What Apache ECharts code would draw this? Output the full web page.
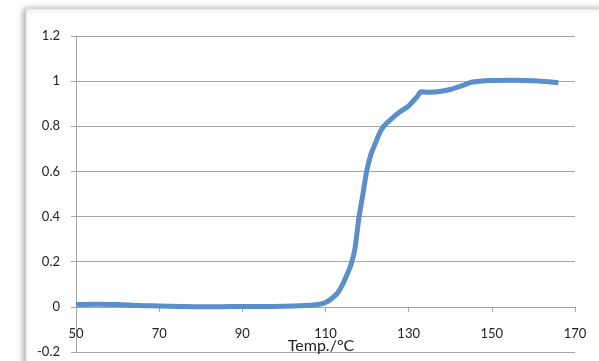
<!DOCTYPE html>
<html>
<head>
<meta charset="utf-8">
<script src="https://cdn.jsdelivr.net/npm/echarts@6/dist/echarts.min.js"></script>
<style>
  html, body { margin: 0; padding: 0; background: #fff; }
  #chart { width: 599px; height: 361px; }
</style>
</head>
<body>
<div id="chart"></div>
<script>
// temperature (°C) and normalised response
const temps = [50, 55, 60, 65, 70, 75, 80, 85, 90, 95, 100, 104, 107, 109, 110, 111, 112, 113, 114, 115,
  116, 117, 118, 119, 120, 121, 122, 123, 124, 126, 128, 130, 131, 132, 133, 135, 137, 140, 142, 144,
  145, 147, 150, 155, 160, 163, 166];
const values = [0.01, 0.012, 0.01, 0.006, 0.004, 0.002, 0.0, 0.001, 0.002, 0.002, 0.003, 0.005, 0.008, 0.013, 0.019, 0.03, 0.045, 0.064, 0.095, 0.136,
  0.18, 0.25, 0.39, 0.5, 0.61, 0.68, 0.725, 0.77, 0.8, 0.835, 0.865, 0.89, 0.91, 0.93, 0.953, 0.951, 0.953, 0.963, 0.975, 0.988,
  0.995, 1.0, 1.003, 1.004, 1.002, 0.998, 0.993];
const xTicks = [50, 70, 90, 110, 130, 150, 170];
const xTitle = 'Temp./°C';

const chart = echarts.init(document.getElementById('chart'));
const labelFont = 'Lato, "Open Sans", sans-serif';
const axisGray = '#a6a6a6';

chart.setOption({
  animation: false,
  graphic: [
    {
      type: 'rect',
      z: -10,
      shape: { x: 26, y: 9, width: 640, height: 400 },
      style: {
        fill: '#fff',
        stroke: '#dedede',
        lineWidth: 1,
        shadowBlur: 6,
        shadowOffsetX: -2,
        shadowColor: 'rgba(0,0,0,0.35)'
      }
    },
    {
      // axis title, Excel puts it just under the tick labels
      type: 'text',
      z: 10,
      x: 321,
      y: 346,
      style: {
        text: xTitle,
        fill: '#222',
        font: '16px ' + labelFont,
        textAlign: 'center',
        textVerticalAlign: 'middle'
      }
    }
  ],
  grid: { left: 76, right: 24, top: 36, bottom: 9, containLabel: false, outerBoundsMode: 'none' },
  xAxis: [
    {
      // line + ticks sitting on y = 0
      type: 'value',
      min: 50,
      max: 170,
      interval: 20,
      axisLine: { onZero: true, onZeroAxisIndex: 0, lineStyle: { color: axisGray, width: 1 } },
      axisTick: { show: true, length: 5, lineStyle: { color: axisGray } },
      axisLabel: { show: false },
      splitLine: { show: false }
    },
    {
      // labels, shifted up next to the zero line
      type: 'value',
      position: 'bottom',
      offset: -44.5,
      min: 50,
      max: 170,
      interval: 20,
      axisLine: { show: false, onZero: false },
      axisTick: { show: false },
      axisLabel: {
        margin: 20,
        fontSize: 13,
        color: '#222',
        fontFamily: labelFont,
        formatter: v => xTicks.includes(v) ? String(v) : ''
      },
      splitLine: { show: false }
    }
  ],
  yAxis: {
    type: 'value',
    min: -0.2,
    max: 1.2,
    interval: 0.2,
    axisLine: { show: true, lineStyle: { color: axisGray, width: 1 } },
    axisTick: { show: true, length: 5, lineStyle: { color: axisGray } },
    axisLabel: {
      margin: 16,
      fontSize: 13,
      color: '#222',
      fontFamily: labelFont,
      formatter: v => String(Math.round(v * 10) / 10)
    },
    splitLine: { show: true, lineStyle: { color: axisGray, width: 1 } }
  },
  series: [
    {
      type: 'line',
      xAxisIndex: 0,
      data: temps.map((t, i) => [t, values[i]]),
      smooth: 0.3,
      showSymbol: false,
      lineStyle: { color: '#5a8fcb', width: 5 },
      z: 3
    }
  ]
});
</script>
</body>
</html>
